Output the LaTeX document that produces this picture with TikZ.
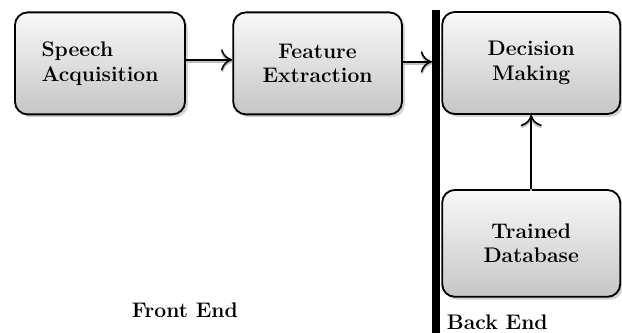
\documentclass[tikz,border=0pt]{standalone}
\usepackage{tikz}
\usetikzlibrary{calc,positioning,arrows,arrows.meta,shadows}

\tikzset{
  label font/.style={font=\fontsize{15}{17.5}\selectfont\bfseries},
  block/.style={rectangle, draw, line width=1.3pt, rounded corners=9pt,
    top color=gray!5, bottom color=gray!45,
    drop shadow={shadow xshift=0.07cm, shadow yshift=-0.07cm, fill=gray!70},
    minimum height=2.55cm, label font},
  flow/.style={->, line width=1.1pt, preaction={draw, gray!50, line width=1.6pt,
    transform canvas={yshift=-1.3pt}}},
  >={To[length=8pt,width=15pt]}
}

\begin{document}
\begin{tikzpicture}
      \useasboundingbox (0,0) rectangle (15.55,8.325);
      % processing stages
      \node [block, minimum width=4.25cm, align=left] (sa) at (2.5,6.74) {Speech\\Acquisition};
      \node [block, minimum width=4.22cm, align=center] (fe) at (7.94,6.74) {Feature\\Extraction};
      \node [block, minimum width=4.45cm, align=center] (dm) at (13.28,6.75) {Decision\\Making};
      \node [block, minimum width=4.45cm, minimum height=2.67cm, align=center] (td) at (13.28,2.24) {Trained\\Database};
      % front end / back end split
      \coordinate (top) at (10.9,8.075);
      \coordinate (bot) at (10.9,0);
      \draw [line width=0.2cm] (top) -- (bot);
      \coordinate (hit) at (10.8,6.78);
      \node [label font] (fend) at (4.62,0.575) {Front End};
      \node [label font, anchor=west] (bend) at (11.05,0.27) {Back End};
      \draw [flow] (sa.east |- 0,6.83) -- (fe.west |- 0,6.83);
      \draw [flow] (fe.east |- hit) -- (hit);
      \draw [flow] (td) -- (dm);
    \end{tikzpicture}
\end{document}
